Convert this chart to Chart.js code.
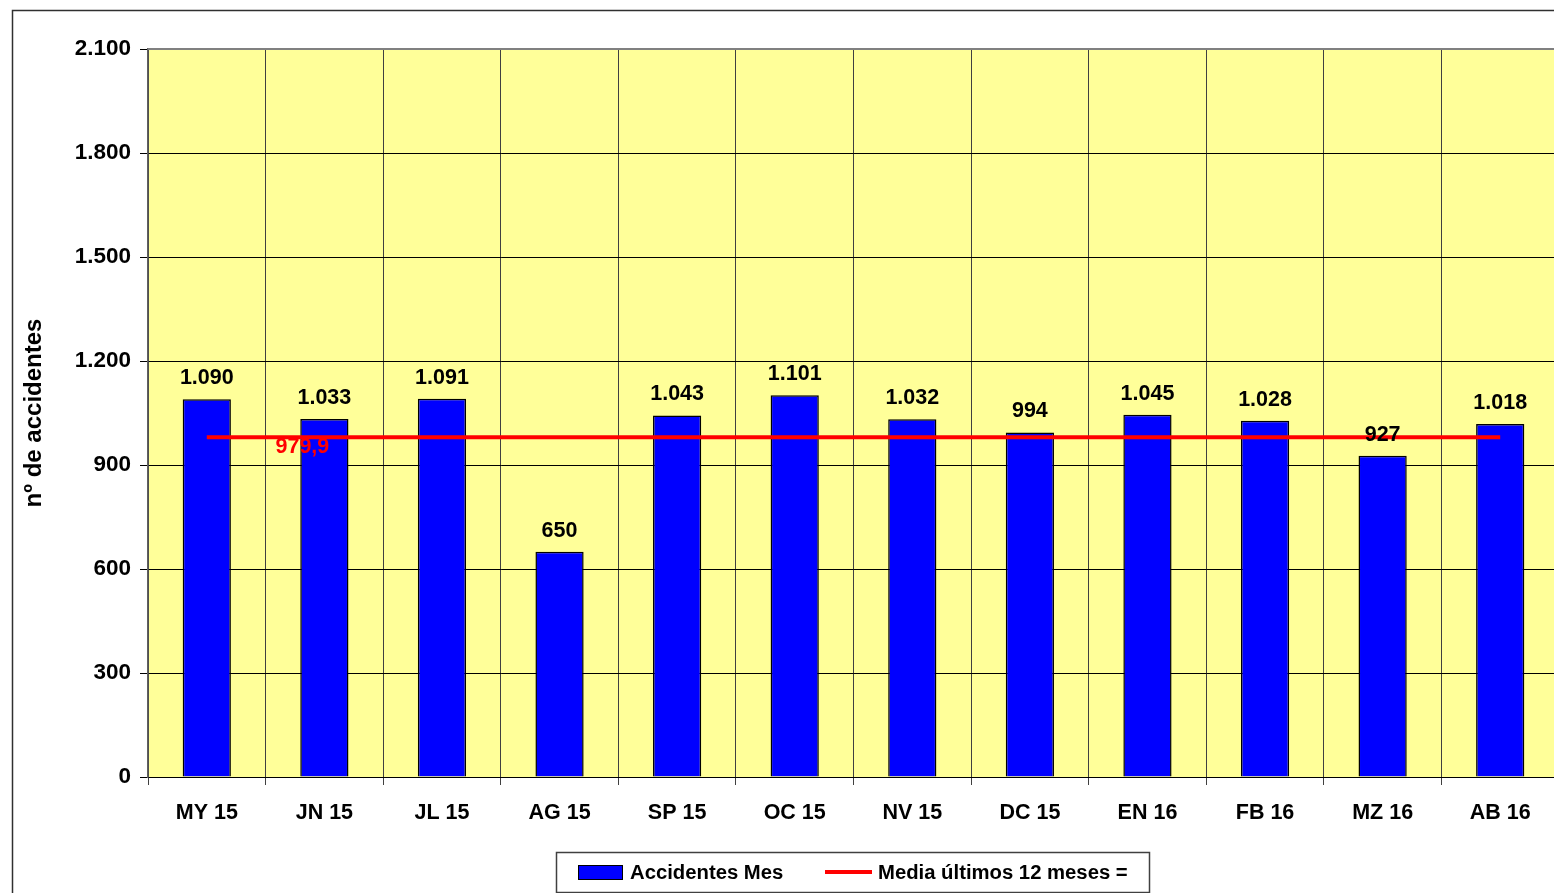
<!DOCTYPE html>
<html lang="es">
<head>
<meta charset="utf-8">
<title>Accidentes Mes</title>
<script src="https://cdn.jsdelivr.net/npm/chart.js@4.4.1/dist/chart.umd.min.js"></script>
<style>
  html, body { margin: 0; padding: 0; background: #fff; overflow: hidden; }
  /* the plot runs a few pixels past the right edge of the window, as in the original */
  #wrap { width: 1559px; height: 893px; position: relative; }
</style>
</head>
<body>
<div id="wrap"><canvas id="chart"></canvas></div>
<script>
// Values
const months = ['MY 15', 'JN 15', 'JL 15', 'AG 15', 'SP 15', 'OC 15', 'NV 15', 'DC 15', 'EN 16', 'FB 16', 'MZ 16', 'AB 16'];
const accidents = [1090, 1033, 1091, 650, 1043, 1101, 1032, 994, 1045, 1028, 927, 1018];
const average12 = [979.9, 979.9, 979.9, 979.9, 979.9, 979.9, 979.9, 979.9, 979.9, 979.9, 979.9, 979.9];
const yTicks = [0, 300, 600, 900, 1200, 1500, 1800, 2100];

const FONT = '"Liberation Sans", Arial, sans-serif';

// Spanish style thousands separator: 1090 -> "1.090"
function formatEs(v) {
    return String(v).replace(/\B(?=(\d{3})+(?!\d))/g, '.');
}

const backgroundPlugin = {
    id: 'background',
    beforeDraw(chart) {
        const { ctx, chartArea: a } = chart;
        ctx.save();
        ctx.fillStyle = '#ffffff';
        ctx.fillRect(0, 0, chart.width, chart.height);
        // outer frame
        ctx.strokeStyle = '#303030';
        ctx.lineWidth = 1.5;
        ctx.beginPath();
        ctx.moveTo(12.5, chart.height + 2);
        ctx.lineTo(12.5, 10.5);
        ctx.lineTo(chart.width + 2, 10.5);
        ctx.stroke();
        // plot area
        ctx.fillStyle = '#ffff99';
        ctx.fillRect(a.left, a.top, a.right - a.left, a.bottom - a.top);
        ctx.restore();
    }
};

const labelsPlugin = {
    id: 'valueLabels',
    afterDatasetsDraw(chart) {
        const { ctx } = chart;
        const barMeta = chart.getDatasetMeta(0);
        ctx.save();
        ctx.font = 'bold 21.5px ' + FONT;
        ctx.textAlign = 'center';
        ctx.textBaseline = 'alphabetic';
        ctx.fillStyle = '#000000';
        barMeta.data.forEach((bar, i) => {
            ctx.fillText(formatEs(accidents[i]), bar.x, bar.y - 15);
        });
        // average value label under the red line
        const lineMeta = chart.getDatasetMeta(1);
        const p = lineMeta.data[1];
        ctx.fillStyle = '#ff0000';
        ctx.textBaseline = 'middle';
        ctx.fillText(average12[1].toFixed(1).replace('.', ','), p.x - 22, p.y + 10);
        ctx.restore();
    },
    afterDraw(chart) {
        const { ctx, chartArea: a } = chart;
        ctx.save();
        // top edge of the plot
        ctx.strokeStyle = '#808080';
        ctx.lineWidth = 2;
        ctx.beginPath();
        ctx.moveTo(a.left, a.top);
        ctx.lineTo(a.right, a.top);
        ctx.stroke();

        // legend box
        const ds = chart.data.datasets;
        ctx.fillStyle = '#ffffff';
        ctx.fillRect(556, 852, 593, 40);
        ctx.strokeStyle = '#404040';
        ctx.lineWidth = 1.5;
        ctx.strokeRect(556.5, 852.5, 593, 40);

        ctx.fillStyle = ds[0].backgroundColor;
        ctx.fillRect(578, 865, 44, 14);
        ctx.strokeStyle = '#000000';
        ctx.lineWidth = 1;
        ctx.strokeRect(578.5, 865.5, 44, 14);

        ctx.strokeStyle = ds[1].borderColor;
        ctx.lineWidth = 4;
        ctx.beginPath();
        ctx.moveTo(825, 872);
        ctx.lineTo(872, 872);
        ctx.stroke();

        ctx.fillStyle = '#000000';
        ctx.font = 'bold 20.3px ' + FONT;
        ctx.textAlign = 'left';
        ctx.textBaseline = 'middle';
        ctx.fillText(ds[0].label, 630, 873);
        ctx.fillText(ds[1].label, 878, 873);
        ctx.restore();
    }
};

const ctx = document.getElementById('chart').getContext('2d');
new Chart(ctx, {
    type: 'bar',
    data: {
        labels: months,
        datasets: [
            {
                type: 'bar',
                label: 'Accidentes Mes',
                data: accidents,
                backgroundColor: '#0000ff',
                borderColor: '#000000',
                borderWidth: 1.5,
                barPercentage: 0.41,
                categoryPercentage: 1,
                order: 2
            },
            {
                type: 'line',
                label: 'Media últimos 12 meses =',
                data: average12,
                borderColor: '#ff0000',
                borderWidth: 4,
                pointRadius: 0,
                fill: false,
                tension: 0,
                order: 1
            }
        ]
    },
    options: {
        responsive: true,
        maintainAspectRatio: false,
        animation: false,
        layout: { padding: { top: 49, left: 0, right: 0, bottom: 0 } },
        plugins: {
            legend: { display: false },
            tooltip: { enabled: false }
        },
        scales: {
            x: {
                offset: true,
                grid: {
                    offset: true,
                    color: '#404040',
                    lineWidth: 1,
                    tickLength: 8
                },
                border: { color: '#000000', width: 1 },
                ticks: {
                    color: '#000000',
                    padding: 15,
                    maxRotation: 0,
                    font: { family: FONT, size: 21.5, weight: 'bold' }
                },
                afterFit(scale) { scale.height = 116; }
            },
            y: {
                min: yTicks[0],
                max: yTicks[yTicks.length - 1],
                afterBuildTicks(scale) {
                    scale.ticks = yTicks.map(v => ({ value: v }));
                },
                grid: {
                    color: '#000000',
                    lineWidth: 1,
                    tickLength: 8
                },
                border: { color: '#606060', width: 1.5 },
                ticks: {
                    color: '#000000',
                    padding: 9,
                    font: { family: FONT, size: 22.5, weight: 'bold' },
                    callback: v => formatEs(v)
                },
                title: {
                    display: true,
                    text: 'nº de accidentes',
                    color: '#000000',
                    padding: { top: 20, bottom: 0 },
                    font: { family: FONT, size: 24, weight: 'bold' }
                },
                afterFit(scale) { scale.width = 148; }
            }
        }
    },
    plugins: [backgroundPlugin, labelsPlugin]
});
</script>
</body>
</html>
